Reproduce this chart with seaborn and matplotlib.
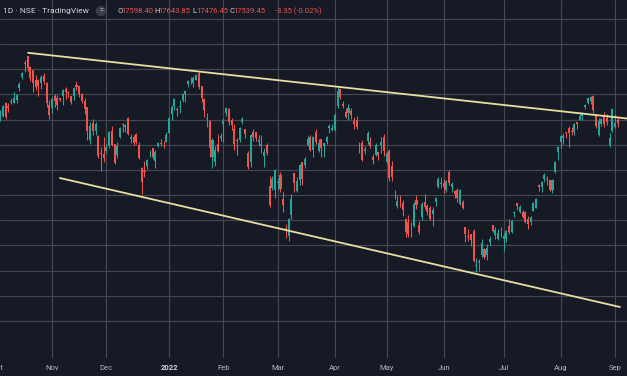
"""
NIFTY 50 daily candles, Oct 2021 - Sep 2022, with two hand drawn trend lines
(TradingView dark theme look)
"""
import numpy as np
import pandas as pd
import matplotlib as mpl
mpl.use('Agg')
from matplotlib import pyplot as plt
from matplotlib import transforms
import seaborn as sns

# NSE weekday holidays inside the window (no bar on these days)
holidays = ['2021-10-15', '2021-11-05', '2021-11-19', '2022-01-26', '2022-03-01',
            '2022-03-18', '2022-04-14', '2022-04-15', '2022-05-03', '2022-08-09',
            '2022-08-15', '2022-08-31']
first_day = '2021-09-30'
last_day = '2022-09-02'

# OHLC, one entry per trading day (Sep 30 2021 ... Sep 2 2022)
opens = [17718,
    # Oct
    17531, 17615, 17661, 17861, 17810, 17886, 17867, 17916, 18097, 18272,
    18500, 18602, 18439, 18383, 18230, 18229, 18176, 18295, 18188, 17833,
    # Nov
    17783, 17970, 17947, 17935, 17967, 18085, 18040, 17967, 17977, 18141,
    18127, 18007, 17890, 17796, 17281, 17550, 17417, 17339, 17055, 17051,
    # Dec
    17104, 17183, 17424, 17209, 17044, 17315, 17524, 17476, 17619, 17283,
    17324, 17366, 17196, 16824, 16774, 16865, 17067, 17150, 16937, 17178,
    17220, 17212, 17245,
    # Jan
    17388, 17681, 17820, 17768, 17797, 17913, 17998, 18170, 18257, 18186,
    18235, 18337, 18129, 17921, 17613, 17575, 17001, 16929, 17209, 17302,
    # Feb
    17529, 17706, 17767, 17591, 17456, 17280, 17279, 17554, 17451, 17076,
    16933, 17409, 17398, 17236, 17192, 17024, 17195, 16548, 16516, 16481,
    # Mar
    16593, 16723, 16339, 15867, 15747, 16078, 16757, 16457, 16633, 16923,
    16876, 17200, 17329, 17121, 17405, 17095, 17289, 17181, 17240, 17468,
    17436,
    # Apr
    17436, 17810, 18081, 17842, 17724, 17698, 17741, 17584, 17599, 17183,
    17234, 17102, 17262, 17242, 17009, 17043, 17079, 17190, 17330,
    # May
    16924, 17097, 16855, 16415, 16227, 16249, 16270, 16021, 15977, 15845,
    15912, 16318, 15917, 16044, 16290, 16225, 16197, 16106, 16296, 16527,
    16578,
    # Jun
    16594, 16481, 16761, 16530, 16469, 16474, 16264, 16283, 15886, 15749,
    15782, 15833, 15272, 15334, 15455, 15545, 15451, 15657, 15926, 15758,
    15701, 15774,
    # Jul
    15704, 15710, 15909, 15818, 16113, 16273, 16136, 16126, 16130, 16019,
    15972, 16151, 16187, 16562, 16524, 16662, 16662, 16632, 16475, 16774,
    17079,
    # Aug
    17244, 17310, 17403, 17464, 17423, 17401, 17566, 17590, 17659, 17797,
    17868, 17898, 17966, 17682, 17357, 17525, 17679, 17620, 17188, 17414,
    # Sep
    17485, 17598.40]

highs = [17742,
    17557, 17750, 17833, 17884, 17857, 17941, 18041, 18008, 18197, 18350,
    18543, 18604, 18458, 18384, 18315, 18242, 18310, 18342, 18190, 17915,
    17954, 18012, 17988, 17947, 18087, 18112, 18061, 17971, 18123, 18210,
    18132, 18023, 17946, 17805, 17553, 17601, 17564, 17355, 17160, 17324,
    17214, 17420, 17490, 17216, 17251, 17484, 17543, 17534, 17639, 17376,
    17351, 17379, 17236, 16840, 16936, 16971, 17118, 17155, 17113, 17250,
    17285, 17264, 17400,
    17647, 17827, 17945, 17797, 17905, 18017, 18071, 18227, 18272, 18286,
    18321, 18351, 18130, 17944, 17707, 17600, 17309, 17183, 17373, 17380,
    17622, 17794, 17781, 17617, 17536, 17306, 17477, 17640, 17454, 17099,
    17376, 17442, 17398, 17351, 17352, 17148, 17220, 16706, 16706, 16816,
    16678, 16768, 16456, 15945, 16028, 16418, 16757, 16694, 16887, 16928,
    17006, 17345, 17353, 17334, 17442, 17291, 17295, 17235, 17343, 17523,
    17536,
    17703, 18114, 18095, 17901, 17787, 17842, 17779, 17639, 17663, 17237,
    17275, 17186, 17414, 17315, 17054, 17223, 17086, 17322, 17378,
    17092, 17133, 16945, 16485, 16404, 16404, 16318, 16042, 16084, 15977,
    16284, 16400, 15985, 16284, 16414, 16262, 16223, 16204, 16370, 16695,
    16691,
    16649, 16646, 16793, 16610, 16481, 16514, 16492, 16324, 15887, 15858,
    15783, 15864, 15400, 15382, 15707, 15565, 15628, 15749, 15927, 15900,
    15862, 15890,
    15793, 15852, 16025, 16011, 16150, 16275, 16248, 16158, 16141, 16070,
    16067, 16287, 16359, 16576, 16626, 16753, 16706, 16636, 16653, 16947,
    17173,
    17356, 17390, 17408, 17490, 17474, 17548, 17566, 17719, 17724, 17839,
    17954, 17969, 17992, 17690, 17625, 17623, 17727, 17686, 17380, 17777,
    17695, 17643.85]

lows = [17585,
    17452, 17581, 17640, 17613, 17717, 17840, 17865, 17865, 18051, 18248,
    18360, 18377, 18216, 18034, 18070, 17968, 18089, 18167, 17799, 17613,
    17697, 17799, 17757, 17900, 17836, 17923, 17962, 17840, 17905, 18071,
    17958, 17863, 17688, 17280, 17216, 17354, 17355, 16985, 16782, 16931,
    17064, 17149, 17180, 16891, 16987, 17308, 17401, 17406, 17355, 17225,
    17192, 17217, 16966, 16410, 16688, 16820, 16998, 16968, 16834, 17161,
    17176, 17147, 17238,
    17383, 17593, 17749, 17655, 17704, 17880, 17879, 18119, 18163, 18119,
    18228, 18083, 17885, 17648, 17485, 17000, 16837, 16866, 17077, 17264,
    17244, 17654, 17511, 17433, 17119, 17044, 17237, 17534, 17303, 16809,
    16839, 17254, 17252, 17176, 17071, 16843, 17040, 16203, 16478, 16357,
    16478, 16442, 16133, 15711, 15671, 16027, 16447, 16448, 16555, 16555,
    16837, 17175, 17096, 17006, 17208, 17091, 17003, 17004, 17209, 17387,
    17422,
    17422, 17791, 17921, 17779, 17623, 17600, 17602, 17442, 17457, 17067,
    16937, 17046, 17215, 17149, 16889, 17024, 16958, 17072, 17023,
    16917, 16623, 16623, 16341, 16197, 16203, 16069, 15736, 15736, 15728,
    15900, 16183, 15775, 16003, 16186, 16078, 16006, 15903, 16221, 16505,
    16519,
    16439, 16443, 16563, 16444, 16347, 16293, 16244, 16172, 15659, 15678,
    15593, 15335, 15183, 15191, 15419, 15385, 15368, 15609, 15815, 15710,
    15691, 15728,
    15511, 15661, 15785, 15800, 16045, 16157, 16116, 16031, 15950, 15858,
    15928, 16142, 16187, 16458, 16447, 16610, 16564, 16465, 16438, 16747,
    16953,
    17154, 17215, 17306, 17161, 17348, 17360, 17442, 17587, 17597, 17765,
    17846, 17853, 17710, 17467, 17346, 17500, 17488, 17519, 17166, 17401,
    17468, 17476.45]

closes = [17618,
    17532, 17691, 17822, 17646, 17790, 17895, 17946, 17992, 18162, 18339,
    18477, 18419, 18267, 18179, 18115, 18125, 18268, 18211, 17857, 17672,
    17930, 17889, 17829, 17916, 18068, 18044, 18017, 17873, 18102, 18109,
    17999, 17898, 17765, 17416, 17503, 17415, 17537, 17026, 17054, 16983,
    17167, 17402, 17196, 16913, 17176, 17469, 17517, 17511, 17368, 17324,
    17221, 17248, 16985, 16614, 16771, 16955, 17073, 17004, 17087, 17233,
    17214, 17204, 17354,
    17625, 17806, 17925, 17746, 17813, 18003, 18056, 18212, 18257, 18256,
    18308, 18113, 17938, 17757, 17617, 17149, 17278, 17110, 17102, 17340,
    17576, 17780, 17560, 17516, 17214, 17266, 17464, 17606, 17374, 16843,
    17352, 17322, 17304, 17276, 17207, 17092, 17063, 16248, 16658, 16794,
    16606, 16498, 16245, 15863, 16013, 16345, 16594, 16630, 16872, 16663,
    16975, 17287, 17118, 17316, 17246, 17223, 17153, 17222, 17325, 17498,
    17465,
    17670, 18053, 17957, 17808, 17640, 17784, 17675, 17530, 17476, 17174,
    16959, 17137, 17393, 17172, 16954, 17201, 17038, 17245, 17103,
    17069, 16678, 16683, 16411, 16302, 16240, 16167, 15808, 15782, 15842,
    16259, 16240, 15809, 16266, 16215, 16125, 16025, 16170, 16352, 16661,
    16585,
    16523, 16628, 16584, 16570, 16416, 16356, 16478, 16202, 15774, 15732,
    15692, 15360, 15294, 15350, 15639, 15413, 15557, 15699, 15832, 15850,
    15799, 15780,
    15752, 15835, 15810, 15989, 16133, 16220, 16216, 16058, 15967, 15938,
    16049, 16279, 16341, 16521, 16606, 16719, 16632, 16484, 16642, 16930,
    17158,
    17340, 17346, 17388, 17382, 17398, 17525, 17535, 17659, 17698, 17825,
    17944, 17956, 17758, 17491, 17578, 17605, 17522, 17559, 17313, 17760,
    17542.80, 17539.45]

month_labels = ['Oct', 'Nov', 'Dec', '2022', 'Feb', 'Mar', 'Apr', 'May',
                'Jun', 'Jul', 'Aug', 'Sep']

# trend lines: anchor points as (bar number, price)
upper_trend_bar = [12.2, 233.0]
upper_trend_price = [18660, 17614]
lower_trend_bar = [23.9, 229.8]
lower_trend_price = [16671, 14622]

grid_prices = np.arange(14400, 19201, 400)

bg_color = '#161a25'
grid_color = '#43474f'
up_color = '#26a69a'
down_color = '#ef5350'
trend_color = '#e8dea4'
text_color = '#b2b5be'


def candles(ax, o, h, l, c):
    x = np.arange(len(o))
    up = c >= o
    cols = np.where(up, up_color, down_color)
    ax.vlines(x, l, h, colors=cols, lw=0.75, zorder=3)
    body = np.maximum(np.abs(c - o), 8)
    ax.bar(x, body, bottom=np.minimum(o, c), width=0.75, color=cols, lw=0, zorder=3)
    return x


def main():
    sns.set_style('dark', {'axes.facecolor': bg_color, 'figure.facecolor': bg_color,
                           'grid.color': grid_color})
    plt.rcParams['font.family'] = ['Roboto', 'DejaVu Sans']

    days = pd.bdate_range(first_day, last_day, freq='C', holidays=holidays)
    o = np.array(opens, float)
    h = np.array(highs, float)
    l = np.array(lows, float)
    c = np.array(closes, float)

    fig = plt.figure(figsize=(6.27, 3.76), dpi=100)
    ax = fig.add_axes([0, 18 / 376, 1, 358 / 376])
    ax.set_facecolor(bg_color)

    candles(ax, o, h, l, c)

    sns.lineplot(x=upper_trend_bar, y=upper_trend_price, ax=ax, color=trend_color,
                 lw=1.3, estimator=None, zorder=4)
    sns.lineplot(x=lower_trend_bar, y=lower_trend_price, ax=ax, color=trend_color,
                 lw=1.3, estimator=None, zorder=4)

    # month ticks at first bar of each month
    month_key = days.to_period('M')
    first_bars = [i for i in range(1, len(days)) if month_key[i] != month_key[i - 1]]
    ax.set_xticks(first_bars)
    ax.set_xticklabels([])
    ax.set_yticks(grid_prices)
    ax.set_yticklabels([])
    ax.tick_params(length=0)
    ax.grid(True, color=grid_color, lw=0.85)
    for s in ax.spines.values():
        s.set_visible(False)

    ax.set_xlim(21 - 52 / 2.72, 21 + 575 / 2.72)
    ax.set_ylim(18800 - 314 * 15.886, 18800 + 44 * 15.886)
    ax.set_xlabel('')
    ax.set_ylabel('')

    trans = transforms.blended_transform_factory(ax.transData, ax.transAxes)
    for pos, lab in zip(first_bars, month_labels):
        bold = lab.isdigit()
        ax.text(pos, -10 / 358, lab, transform=trans, ha='center', va='center',
                fontsize=5.5, color='#d1d4dc' if bold else text_color,
                fontweight='bold' if bold else 'normal', clip_on=False)

    # legend line at the top
    yt = 1 - 11 / 376
    fig.text(3 / 627, yt, '1D · NSE · TradingView', fontsize=6, color='#d1d4dc', va='center')
    fig.text(101 / 627, yt, '=', fontsize=5, color='#d1d4dc', ha='center', va='center',
             bbox=dict(boxstyle='circle,pad=0.25', fc='#3a3e4a', ec='none'))
    chg = c[-1] - c[-2]
    pct = chg / c[-2] * 100
    parts = [('O', o[-1]), ('H', h[-1]), ('L', l[-1]), ('C', c[-1])]
    xs = [117, 154, 192, 229]
    for (key, val), xp in zip(parts, xs):
        fig.text(xp / 627, yt, key, fontsize=5.5, color='#d1d4dc', va='center')
        fig.text((xp + 4) / 627, yt, f'{val:.2f}', fontsize=5.5, color=down_color, va='center')
    fig.text(275 / 627, yt, f'{chg:.2f} ({pct:.2f}%)', fontsize=5.5, color=down_color,
             va='center')

    fig.savefig('out.png', dpi=100, facecolor=bg_color)


if __name__ == '__main__':
    main()
